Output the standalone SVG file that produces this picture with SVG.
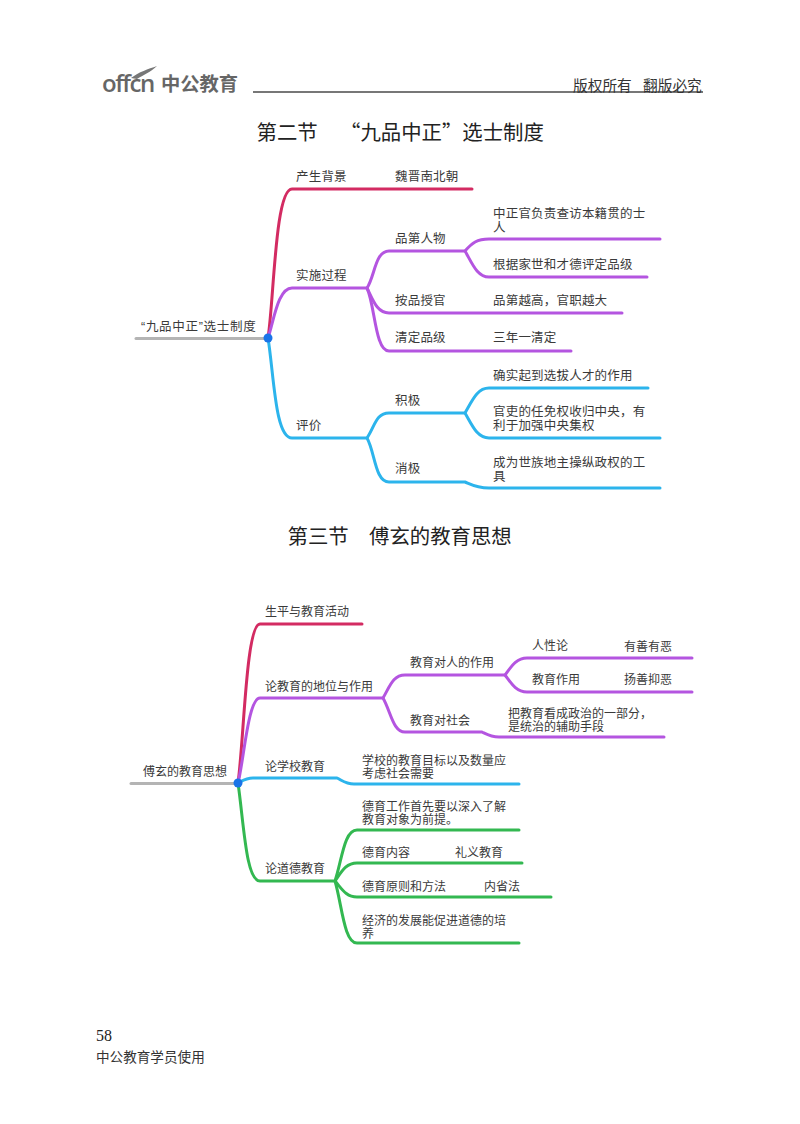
<svg xmlns="http://www.w3.org/2000/svg" width="800" height="1124" viewBox="0 0 800 1124">
<style>
text{font-family:"Noto Sans CJK SC","Liberation Sans",sans-serif;fill:#3a3a3a}
.n{font-size:12.5px;letter-spacing:.2px}
.m{font-size:12px}
.t{font-size:20.400px;fill:#222}
.h{font-size:14.7px;fill:#333}
.q{font-family:"Liberation Sans",sans-serif}
path{fill:none;stroke-linecap:round;stroke-linejoin:round;stroke-width:3}
.red{stroke:#d32b62}.pur{stroke:#b455e0}.blu{stroke:#2cb4ec}.grn{stroke:#33b851}.gry{stroke:#b4b4b4}
circle{fill:#1a74e8}
</style>
<rect width="800" height="1124" fill="#fff"/>
<g id="header">
<text x="102" y="92" style="font-family:'Open Sans','Liberation Sans',sans-serif;font-weight:600;font-size:24px;letter-spacing:-1.5px;fill:#666">offcn</text>
<path d="M131 78C139 72 148 69 157 66C151 72 143 75 137 79Z" style="fill:#777;stroke:none"/>
<text x="161" y="91" style="font-size:19.3px;font-weight:700;fill:#666">中公教育</text>
<path d="M253 92H703" style="stroke:#777;stroke-width:2;stroke-linecap:butt"/>
<text x="573" y="91" class="h">版权所有</text>
<text x="643" y="91" class="h">翻版必究</text>
</g>
<g id="titles">
<text x="256.500" y="140" class="t">第二节</text>
<text x="340" y="140" class="t">“九品中正”选士制度</text>
<text x="287.500" y="544" class="t">第三节</text>
<text x="369" y="544" class="t">傅玄的教育思想</text>
</g>
<g id="connectors">
<path class="gry" d="M136 338.500H268"/>
<path class="red" d="M268 338C274 300 275 189 292 189H472"/>
<path class="pur" d="M268 338C274 320 278 288 292 288H367C375 276 375 251 389 251H465C472 243 477 239 489 239H660"/>
<path class="pur" d="M465 251C472 263 477 277 489 277H647"/>
<path class="pur" d="M367 288C373 300 377 313 389 313H622"/>
<path class="pur" d="M367 288C375 305 375 351 389 351H571"/>
<path class="blu" d="M268 338C274 375 275 438 292 438H367C375 426 376 413 389 413H465C472 401 477 388 489 388H648"/>
<path class="blu" d="M465 413C472 425 477 438 489 438H660"/>
<path class="blu" d="M367 438C375 452 375 482 389 482H465C472 485 477 488 489 488H660"/>
<path class="gry" d="M131 783.500H238"/>
<path class="red" d="M238 783C244 740 246 624 260 624H362"/>
<path class="pur" d="M238 783C244 760 248 698 260 698H383C390 686 393 675 405 675H505C511 667 516 658 527 658H692"/>
<path class="pur" d="M505 675C511 683 516 692 527 692H692"/>
<path class="pur" d="M383 698C391 712 393 732 405 732H482C488 735 491 737 499 737H664"/>
<path class="blu" d="M238 783C242 781 246 778 253 778H337C343 781 346 784 354 784H519"/>
<path class="grn" d="M238 783C244 825 246 881 260 881H335C342 860 344 830 357 830H519"/>
<path class="grn" d="M335 881C342 871 346 863 357 863H522"/>
<path class="grn" d="M335 881C342 889 346 897 357 897H551"/>
<path class="grn" d="M335 881C342 905 344 943 357 943H519"/>
<circle cx="268" cy="338" r="4.500"/>
<circle cx="238" cy="783" r="4.500"/>
</g>
<g id="map1-root"><text x="141" y="331" class="n" style="letter-spacing:.7px"><tspan class="q">“</tspan>九品中正<tspan class="q">”</tspan>选士制度</text></g>
<g id="map1-n1"><text x="296" y="181" class="n">产生背景</text></g>
<g id="map1-n2"><text x="395" y="181" class="n">魏晋南北朝</text></g>
<g id="map1-n3"><text x="296" y="280" class="n">实施过程</text></g>
<g id="map1-n4"><text x="296" y="430" class="n">评价</text></g>
<g id="map1-n5"><text x="395" y="243" class="n">品第人物</text></g>
<g id="map1-n6"><text x="395" y="305" class="n">按品授官</text></g>
<g id="map1-n7"><text x="395" y="342" class="n">清定品级</text></g>
<g id="map1-n8"><text x="395" y="405" class="n">积极</text></g>
<g id="map1-n9"><text x="395" y="473" class="n">消极</text></g>
<g id="map1-n10"><text class="n"><tspan x="493" y="218">中正官负责查访本籍贯的士</tspan><tspan x="493" y="232">人</tspan></text></g>
<g id="map1-n11"><text x="493" y="269" class="n">根据家世和才德评定品级</text></g>
<g id="map1-n12"><text x="493" y="305" class="n">品第越高，官职越大</text></g>
<g id="map1-n13"><text x="493" y="342" class="n">三年一清定</text></g>
<g id="map1-n14"><text x="493" y="380" class="n">确实起到选拔人才的作用</text></g>
<g id="map1-n15"><text class="n"><tspan x="493" y="416">官吏的任免权收归中央，有</tspan><tspan x="493" y="430">利于加强中央集权</tspan></text></g>
<g id="map1-n16"><text class="n"><tspan x="493" y="467">成为世族地主操纵政权的工</tspan><tspan x="493" y="481">具</tspan></text></g>
<g id="map2-root"><text x="143" y="776" class="m">傅玄的教育思想</text></g>
<g id="map2-n1"><text x="265" y="616" class="m">生平与教育活动</text></g>
<g id="map2-n2"><text x="265" y="691" class="m">论教育的地位与作用</text></g>
<g id="map2-n3"><text x="265" y="771" class="m">论学校教育</text></g>
<g id="map2-n4"><text x="265" y="873" class="m">论道德教育</text></g>
<g id="map2-n5"><text x="410" y="667" class="m">教育对人的作用</text></g>
<g id="map2-n6"><text x="410" y="725" class="m">教育对社会</text></g>
<g id="map2-n7"><text x="532" y="650" class="m">人性论</text></g>
<g id="map2-n8"><text x="624" y="651" class="m">有善有恶</text></g>
<g id="map2-n9"><text x="532" y="684" class="m">教育作用</text></g>
<g id="map2-n10"><text x="624" y="684" class="m">扬善抑恶</text></g>
<g id="map2-n11"><text class="m"><tspan x="508" y="718">把教育看成政治的一部分，</tspan><tspan x="508" y="731">是统治的辅助手段</tspan></text></g>
<g id="map2-n12"><text class="m"><tspan x="362" y="765">学校的教育目标以及数量应</tspan><tspan x="362" y="778">考虑社会需要</tspan></text></g>
<g id="map2-n13"><text class="m"><tspan x="362" y="811">德育工作首先要以深入了解</tspan><tspan x="362" y="824">教育对象为前提。</tspan></text></g>
<g id="map2-n14"><text x="362" y="857" class="m">德育内容</text></g>
<g id="map2-n15"><text x="455" y="857" class="m">礼义教育</text></g>
<g id="map2-n16"><text x="362" y="891" class="m">德育原则和方法</text></g>
<g id="map2-n17"><text x="484" y="891" class="m">内省法</text></g>
<g id="map2-n18"><text class="m"><tspan x="362" y="925">经济的发展能促进道德的培</tspan><tspan x="362" y="938">养</tspan></text></g>
<g id="footer">
<text x="96" y="1041" style="font-family:'Liberation Serif',serif;font-size:16px;fill:#222">58</text>
<text x="96" y="1062" style="font-size:13.600px;fill:#333">中公教育学员使用</text>
</g>
</svg>
